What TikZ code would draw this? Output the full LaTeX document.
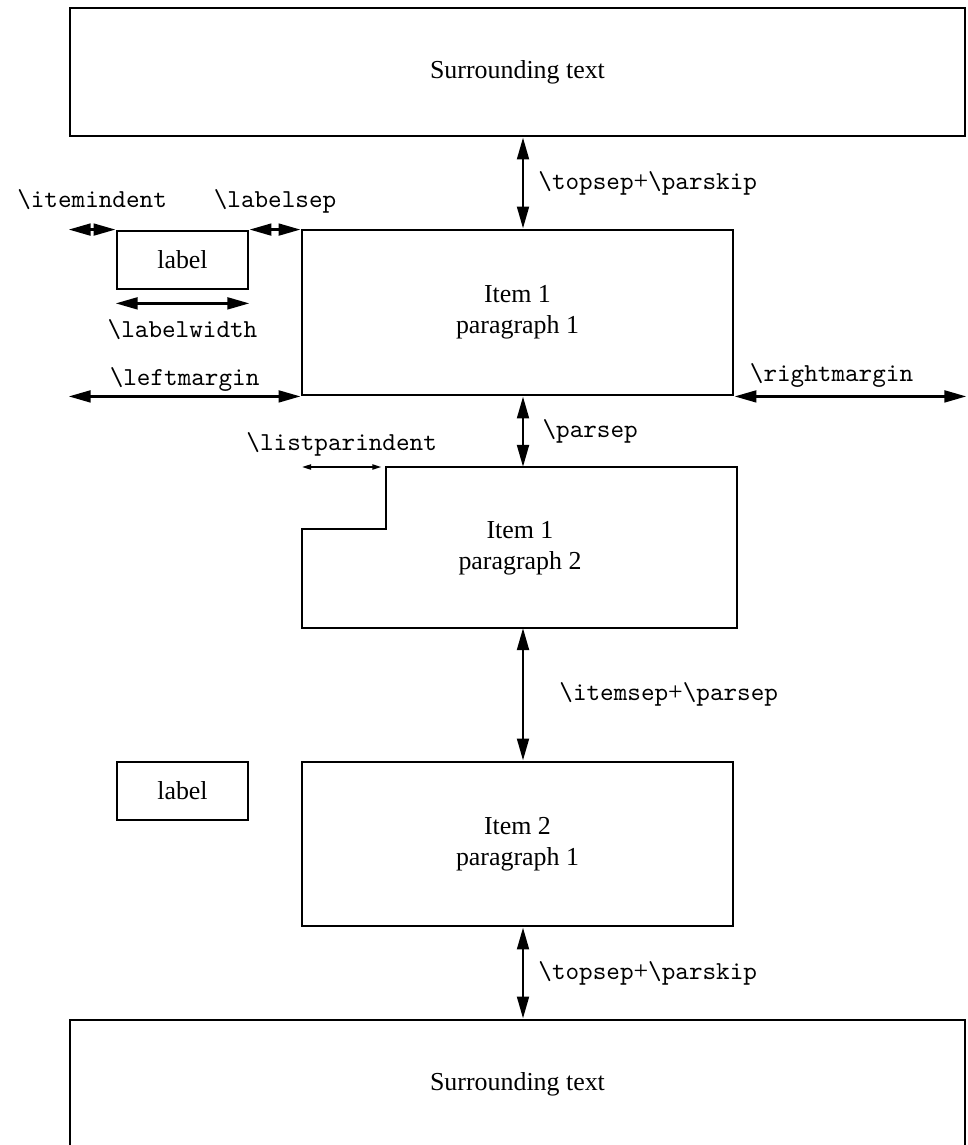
\documentclass[tikz,border=0pt]{standalone}
\usepackage{fontspec}
\setmainfont{Liberation Serif}
\usetikzlibrary{positioning, arrows.meta, calc}

\def\macname#1{\texttt{\textbackslash #1}}

\begin{document}
\begin{tikzpicture}[x=0.386pt, y=-0.386pt, line width=1.1pt, node distance=0.1cm]
	\tikzstyle{textbox} = [draw, rectangle, inner sep=0pt, align=center];
	\tikzstyle{dimarrow} = [{Triangle[length=8.5pt, width=4.5pt]}-{Triangle[length=8.5pt, width=4.5pt]}];
	\tikzstyle{thinarrow} = [{Triangle[length=3.5pt, width=2pt]}-{Triangle[length=3.5pt, width=2pt]}, line width=0.6pt];
	\tikzstyle{dimtext} = [inner sep=0pt];
	
	\def \px {0.386pt}
	\useasboundingbox (0,0) rectangle (967,1145);
	
	% boxes
	\node[textbox, minimum width=895*\px, minimum height=128*\px] (top) at (517.5,72) {Surrounding text};
	\node[textbox, minimum width=431*\px, minimum height=165*\px] (item11) at (517.5,312.5) {Item 1\\paragraph 1};
	\node[textbox, minimum width=131*\px, minimum height=58*\px] (lab1) at (182.5,260) {label};
	
	\coordinate (p2nw) at (386,467);
	\coordinate (p2se) at (737,628);
	\coordinate (p2sw) at (302,628);
	\draw (p2sw) -- (302,529) -- (386,529) -- (p2nw) -- (p2nw -| p2se) -- (p2se) -- cycle;
	\node[align=center] (item12) at (520,548) {Item 1\\paragraph 2};
	
	\node[textbox, minimum width=431*\px, minimum height=164*\px] (item21) at (517.5,844) {Item 2\\paragraph 1};
	\node[textbox, minimum width=131*\px, minimum height=58*\px] (lab2) at (182.5,791) {label};
	\node[textbox, minimum width=895*\px, minimum height=128*\px] (bottom) at (517.5,1084) {Surrounding text};
	
	% vertical spacing
	\coordinate (mid) at (523,0);
	\draw[dimarrow] (top.south -| mid) -- coordinate (g1) (item11.north -| mid);
	\draw[dimarrow] (item11.south -| mid) -- coordinate (g2) (p2nw -| mid);
	\draw[dimarrow] (p2se -| mid) -- coordinate (g3) (item21.north -| mid);
	\draw[dimarrow] (item21.south -| mid) -- coordinate (g4) (bottom.north -| mid);
	
	\node[dimtext, right = 5.4pt of g1] (t1) {\macname{topsep}+\macname{parskip}};
	\node[dimtext, right = 7pt of g2] (t2) {\macname{parsep}};
	\node[dimtext, right = 13.5pt of g3] (t3) {\macname{itemsep}+\macname{parsep}};
	\node[dimtext, right = 5.4pt of g4] (t4) {\macname{topsep}+\macname{parskip}};
	
	% horizontal spacing
	\draw[dimarrow] (top.west |- lab1.north) -- coordinate (h1) (lab1.north west);
	\draw[dimarrow] (lab1.north east) -- coordinate (h2) (item11.west |- lab1.north);
	\draw[dimarrow] ([yshift=-5pt]lab1.south west) -- coordinate (h3) ([yshift=-5pt]lab1.south east);
	\draw[dimarrow] (top.west |- item11.south) -- coordinate (h4) (item11.south west);
	\draw[dimarrow] (item11.south east) -- coordinate (h5) (top.east |- item11.south);
	\draw[thinarrow] (p2sw |- p2nw) -- coordinate (h6) ([xshift=-1.8pt]p2nw);
	
	\node[dimtext, above = 8.7pt of h1, anchor=base] (s1) {\macname{itemindent}};
	\node[dimtext, above = 8.7pt of h2, anchor=base] (s2) {\macname{labelsep}};
	\node[dimtext, below = 13.1pt of h3, anchor=base] (s3) {\macname{labelwidth}};
	\node[dimtext, above = 4.2pt of h4, anchor=base] (s4) {\macname{leftmargin}};
	\node[dimtext, above = 5.8pt of h5, anchor=base, xshift=-7.3pt] (s5) {\macname{rightmargin}};
	\node[dimtext, above = 6.2pt of h6, anchor=base] (s6) {\macname{listparindent}};
	
\end{tikzpicture}
\end{document}
